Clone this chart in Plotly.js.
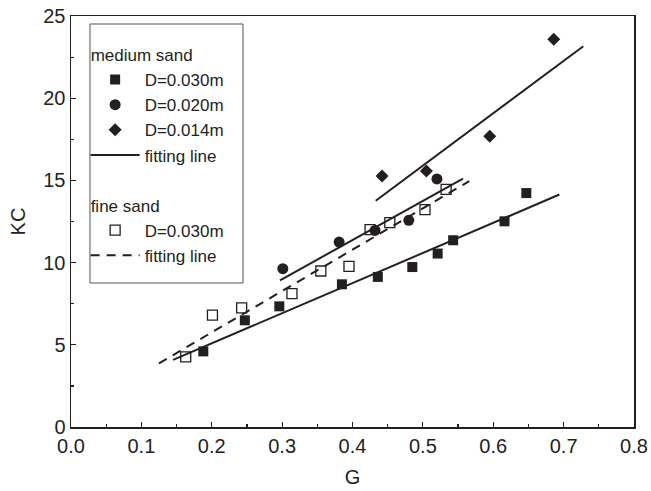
<!DOCTYPE html>
<html>
<head>
<meta charset="utf-8">
<script src="https://cdn.plot.ly/plotly-3.0.1.min.js"></script>
<style>html,body{margin:0;padding:0;background:#fff;}#chart{width:651px;height:491px;}</style>
</head>
<body>
<div id="chart"></div>
<script>
// medium sand, D=0.030m (filled squares)
const mG030 = [0.188, 0.247, 0.296, 0.385, 0.436, 0.485, 0.521, 0.543, 0.616, 0.647];
const mKC030 = [4.60, 6.49, 7.34, 8.68, 9.13, 9.73, 10.55, 11.36, 12.51, 14.23];
// medium sand, D=0.020m (filled circles)
const mG020 = [0.301, 0.381, 0.432, 0.480, 0.520];
const mKC020 = [9.63, 11.25, 11.96, 12.57, 15.09];
// medium sand, D=0.014m (filled diamonds)
const mG014 = [0.442, 0.505, 0.595, 0.686];
const mKC014 = [15.27, 15.57, 17.68, 23.58];
// fine sand, D=0.030m (open squares)
const fG030 = [0.163, 0.201, 0.2425, 0.314, 0.355, 0.395, 0.425, 0.453, 0.503, 0.533];
const fKC030 = [4.26, 6.80, 7.24, 8.11, 9.49, 9.77, 12.0, 12.43, 13.22, 14.46];
// fitting lines (end points)
const fit030G = [0.145, 0.694];
const fit030KC = [4.08, 14.14];
const fit020G = [0.297, 0.557];
const fit020KC = [8.92, 15.11];
const fit014G = [0.433, 0.728];
const fit014KC = [13.76, 23.16];
const fitFineG = [0.125, 0.566];
const fitFineKC = [3.87, 14.96];
// axis ticks
const xTicks = [0, 0.1, 0.2, 0.3, 0.4, 0.5, 0.6, 0.7, 0.8];
const xTickText = ['0.0', '0.1', '0.2', '0.3', '0.4', '0.5', '0.6', '0.7', '0.8'];
const yTicks = [0, 5, 10, 15, 20, 25];

const ink = '#231f20';
const FONT = 'Liberation Sans, Arial, sans-serif';
const LEGFONT = 17;

const traces = [
  {x: mG020, y: mKC020, mode: 'markers', name: 'D=0.020m', legendgroup: 'medium', legendrank: 2,
   marker: {symbol: 'circle', size: 11, color: ink}},
  {x: mG030, y: mKC030, mode: 'markers', name: 'D=0.030m', legendgroup: 'medium', legendrank: 1,
   legendgrouptitle: {text: 'medium sand', font: {size: LEGFONT, color: ink, family: FONT}},
   marker: {symbol: 'square', size: 10, color: ink}},
  {x: mG014, y: mKC014, mode: 'markers', name: 'D=0.014m', legendgroup: 'medium', legendrank: 3,
   marker: {symbol: 'diamond', size: 10, color: ink}},
  {x: fG030, y: fKC030, mode: 'markers', name: 'D=0.030m', legendgroup: 'fine', legendrank: 5,
   legendgrouptitle: {text: 'fine sand', font: {size: LEGFONT, color: ink, family: FONT}},
   marker: {symbol: 'square-open', size: 10, color: ink, line: {width: 1.3, color: ink}}},
  {x: fit030G, y: fit030KC, mode: 'lines', name: 'fitting line', legendgroup: 'medium', legendrank: 4,
   line: {color: ink, width: 2}},
  {x: fit020G, y: fit020KC, mode: 'lines', name: 'fitting line', legendgroup: 'medium', showlegend: false,
   line: {color: ink, width: 2}},
  {x: fit014G, y: fit014KC, mode: 'lines', name: 'fitting line', legendgroup: 'medium', showlegend: false,
   line: {color: ink, width: 2}},
  {x: fitFineG, y: fitFineKC, mode: 'lines', name: 'fitting line', legendgroup: 'fine', legendrank: 6,
   line: {color: ink, width: 2, dash: '9px,7px'}}
];

const axisCommon = {
  showgrid: false, zeroline: false, showline: true, mirror: true,
  linecolor: ink, linewidth: 1.5,
  ticks: 'inside', ticklen: 5, tickwidth: 1.2, tickcolor: ink,
  tickfont: {size: 20, color: ink, family: FONT}
};

const layout = {
  width: 651, height: 491,
  margin: {l: 71, r: 17, t: 16, b: 64},
  paper_bgcolor: '#fff', plot_bgcolor: '#fff',
  font: {family: FONT, color: ink},
  showlegend: true,
  legend: {
    x: 0.026, y: 0.949, xanchor: 'left', yanchor: 'top',
    bgcolor: 'rgba(0,0,0,0)', borderwidth: 0,
    font: {size: LEGFONT, color: ink, family: FONT},
    traceorder: 'grouped', tracegroupgap: 25, itemwidth: 49
  },
  shapes: [{
    type: 'rect', xref: 'paper', yref: 'paper', layer: 'below',
    x0: 0.0337, x1: 0.3055, y0: 0.3504, y1: 0.9805,
    line: {color: '#555', width: 1}, fillcolor: '#fff'
  }],
  xaxis: Object.assign({}, axisCommon, {
    range: [0, 0.8], tickvals: xTicks, ticktext: xTickText,
    minor: {tickvals: [0.05, 0.15, 0.25, 0.35, 0.45, 0.55, 0.65, 0.75], ticks: 'inside', ticklen: 3, tickcolor: ink, tickwidth: 1.2},
    title: {text: 'G', font: {size: 20, color: ink, family: FONT}, standoff: 14}
  }),
  yaxis: Object.assign({}, axisCommon, {
    range: [0, 25], tickvals: yTicks,
    minor: {tickvals: [2.5, 7.5, 12.5, 17.5, 22.5], ticks: 'inside', ticklen: 3, tickcolor: ink, tickwidth: 1.2},
    title: {text: 'KC', font: {size: 20, color: ink, family: FONT}, standoff: 12}
  })
};

Plotly.newPlot('chart', traces, layout, {displayModeBar: false, staticPlot: true});
</script>
</body>
</html>
